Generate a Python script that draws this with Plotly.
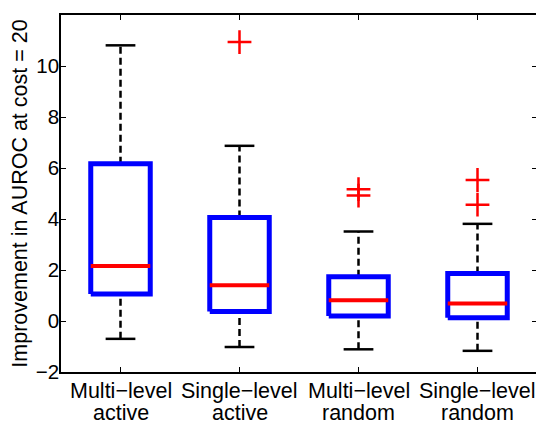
import plotly.graph_objects as go

# ---- data ----
cat_line1 = ["Multi\u2212level", "Single\u2212level", "Multi\u2212level", "Single\u2212level"]
cat_line2 = ["active", "active", "random", "random"]
whisker_lo = [-0.70, -1.02, -1.11, -1.17]
q1 = [1.06, 0.37, 0.20, 0.13]
median = [2.16, 1.40, 0.81, 0.69]
q3 = [6.17, 4.06, 1.74, 1.86]
whisker_hi = [10.81, 6.87, 3.51, 3.81]
outliers = [[], [10.94], [5.17, 4.92], [5.53, 4.56]]
y_ticks = [-2, 0, 2, 4, 6, 8, 10, 12]
y_title = "Improvement in AUROC at cost = 20"

BOX_HALF = 0.25
CAP_HALF = 0.125

fig = go.Figure()
pos = list(range(1, len(cat_line1) + 1))

# whiskers (dashed)
wx, wy = [], []
for p, lo, a, b, hi in zip(pos, whisker_lo, q1, q3, whisker_hi):
    wx += [p, p, None, p, p, None]
    wy += [b, hi, None, lo, a, None]
fig.add_trace(go.Scatter(x=wx, y=wy, mode="lines",
                         line=dict(color="black", width=2.5, dash="7px,4px"),
                         hoverinfo="skip", showlegend=False))
# caps
cx, cy = [], []
for p, lo, hi in zip(pos, whisker_lo, whisker_hi):
    cx += [p - CAP_HALF, p + CAP_HALF, None, p - CAP_HALF, p + CAP_HALF, None]
    cy += [hi, hi, None, lo, lo, None]
fig.add_trace(go.Scatter(x=cx, y=cy, mode="lines",
                         line=dict(color="black", width=2.5),
                         hoverinfo="skip", showlegend=False))
# boxes
bx, by = [], []
for p, a, b in zip(pos, q1, q3):
    bx += [p - BOX_HALF, p + BOX_HALF, p + BOX_HALF, p - BOX_HALF, p - BOX_HALF, None]
    by += [a, a, b, b, a, None]
fig.add_trace(go.Scatter(x=bx, y=by, mode="lines",
                         line=dict(color="#0000ff", width=5),
                         hoverinfo="skip", showlegend=False))
# medians
mx, my = [], []
for p, m in zip(pos, median):
    mx += [p - BOX_HALF, p + BOX_HALF, None]
    my += [m, m, None]
fig.add_trace(go.Scatter(x=mx, y=my, mode="lines",
                         line=dict(color="#ff0000", width=4),
                         hoverinfo="skip", showlegend=False))
# outliers
ox, oy = [], []
for p, outs in zip(pos, outliers):
    for o in outs:
        ox.append(p)
        oy.append(o)
fig.add_trace(go.Scatter(x=ox, y=oy, mode="markers",
                         marker=dict(symbol="cross-thin", size=17,
                                     line=dict(color="#ff0000", width=2.5)),
                         hoverinfo="skip", showlegend=False))

font_family = "Liberation Sans, Arial, Helvetica, sans-serif"

# two-line category labels
annotations = []
for p, l1, l2 in zip(pos, cat_line1, cat_line2):
    annotations.append(dict(x=p, y=0, xref="x", yref="paper", text=l1,
                            showarrow=False, yanchor="top", xanchor="center",
                            yshift=-5, font=dict(size=21.5)))
    annotations.append(dict(x=p, y=0, xref="x", yref="paper", text=l2,
                            showarrow=False, yanchor="top", xanchor="center",
                            yshift=-27, font=dict(size=21.5)))

fig.update_layout(
    width=544, height=426,
    margin=dict(l=53, r=15, t=7, b=62),
    paper_bgcolor="white", plot_bgcolor="white",
    font=dict(family=font_family, size=20.5, color="black"),
    showlegend=False,
    annotations=annotations,
    xaxis=dict(range=[0.5, 4.5], tickvals=pos, showticklabels=False,
               ticks="inside", ticklen=5, tickcolor="black",
               showline=True, linecolor="black", linewidth=1.5, mirror="ticks",
               showgrid=False, zeroline=False, automargin=False),
    yaxis=dict(range=[-2, 12], tickvals=y_ticks,
               ticktext=[("\u2212" + str(-t)) if t < 0 else str(t) for t in y_ticks],
               ticks="inside", ticklen=5, tickcolor="black",
               showline=True, linecolor="black", linewidth=1.5, mirror="ticks",
               showgrid=False, zeroline=False, automargin=False,
               ticklabelstandoff=-4, tickfont=dict(size=20.5),
               title=dict(text=y_title, font=dict(size=21.5), standoff=3)),
)

fig.write_html("out.html")
